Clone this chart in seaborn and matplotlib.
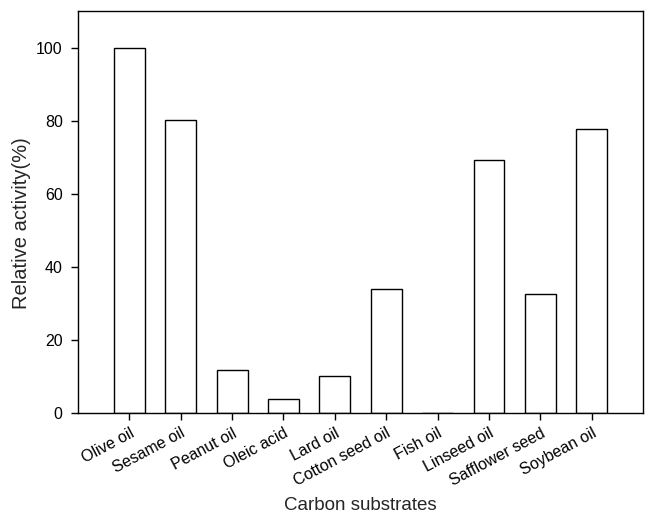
import matplotlib
matplotlib.use("Agg")
import matplotlib.pyplot as plt
import seaborn as sns
import pandas as pd

categories = ["Olive oil", "Sesame oil", "Peanut oil", "Oleic acid", "Lard oil",
              "Cotton seed oil", "Fish oil", "Linseed oil", "Safflower seed", "Soybean oil"]
activity = [100, 80.1, 11.7, 3.7, 10.2, 34.0, 0.0, 69.3, 32.6, 77.6]
yticks = [0, 20, 40, 60, 80, 100]

sns.set_style("ticks")
plt.rcParams['font.family'] = ['Liberation Sans', 'DejaVu Sans']

df = pd.DataFrame({"Carbon substrates": categories, "Relative activity(%)": activity})

fig = plt.figure(figsize=(6.51, 5.15), dpi=100)
ax = fig.add_axes([78/651, 1 - 413/515, (643-78)/651, (413-11)/515])
sns.barplot(data=df, x="Carbon substrates", y="Relative activity(%)", ax=ax,
            color="white", edgecolor="black", linewidth=1.0, width=0.6, saturation=1)
ax.set_xlim(-1, 10)
ax.set_ylim(0, 110)
ax.set_yticks(yticks)
ax.set_yticklabels([str(v) for v in yticks], fontsize=11.5)
ax.set_xticks(range(len(categories)))
ax.set_xticklabels(categories, rotation=28, ha="right", rotation_mode="anchor", fontsize=11.5)
ax.tick_params(axis="both", direction="out", length=5, width=1, colors="black")
ax.tick_params(axis="y", pad=6)
ax.tick_params(axis="x", pad=4)
for s in ax.spines.values():
    s.set_visible(True)
    s.set_color("black")
    s.set_linewidth(1.0)
ax.set_xlabel("Carbon substrates", fontsize=13.5, labelpad=6)
ax.set_ylabel("Relative activity(%)", fontsize=14.5)
ax.yaxis.set_label_coords(-0.083, 0.473)
fig.savefig("out.png", dpi=100)
